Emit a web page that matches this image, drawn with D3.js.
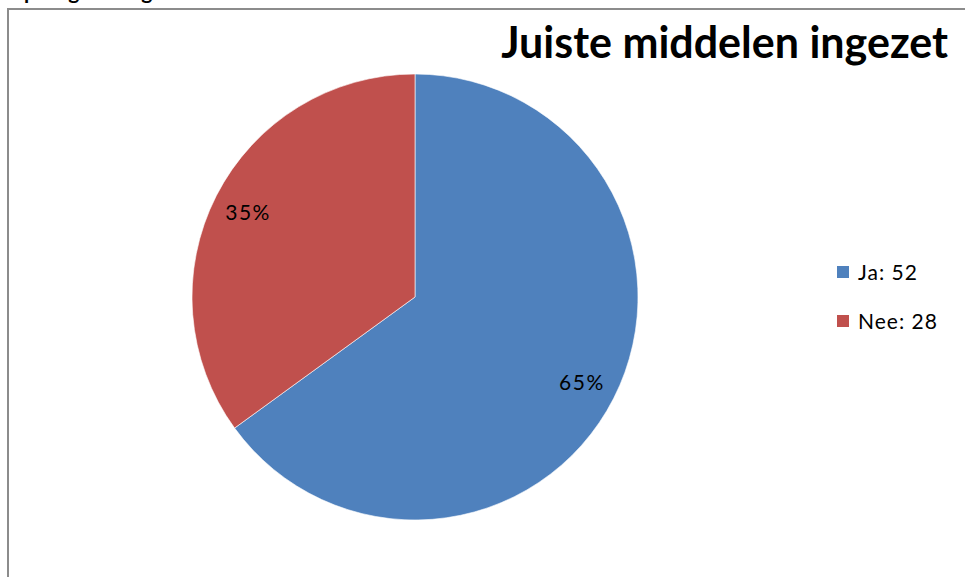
<!DOCTYPE html>
<html><head><meta charset="utf-8">
<script src="https://cdn.jsdelivr.net/npm/d3@7"></script>
<style>html,body{margin:0;padding:0;background:#fff;overflow:hidden}</style>
</head><body>
<svg id="c" width="965" height="577"></svg>
<script>
const categories = ["Ja", "Nee"];
const counts = [52, 28];
const colors = ["#4F81BD", "#C0504D"];
const title = "Juiste middelen ingezet";
const topFragment = "Groepsbegeleiding:";

const svg = d3.select("#c");
const font = "Lato, 'Open Sans', sans-serif";

// heading above the frame, cut off by the page top as in the reference
svg.append("text").attr("x", -22).attr("y", -1).attr("font-family", font)
  .attr("font-weight", "bold").attr("font-size", 21).attr("fill", "#000").text(topFragment);

// frame
svg.append("rect").attr("x", 8).attr("y", 9).attr("width", 1000).attr("height", 700)
  .attr("fill", "#fff").attr("stroke", "#8c8c8c").attr("stroke-width", 2);

// title
svg.append("text").attr("x", 948).attr("y", 58).attr("text-anchor", "end")
  .attr("font-family", font).attr("font-weight", "bold").attr("font-size", 43)
  .attr("fill", "#000").text(title);

const cx = 415, cy = 297, r = 223;
const total = d3.sum(counts);
const pie = d3.pie().sort(null).value(d => d)(counts);
const arc = d3.arc().innerRadius(0).outerRadius(r);
const labelArc = d3.arc().innerRadius(r * 0.84).outerRadius(r * 0.84);

const g = svg.append("g").attr("transform", `translate(${cx},${cy})`);
g.selectAll("path").data(pie).join("path")
  .attr("d", arc).attr("fill", (d, i) => colors[i])
  .attr("stroke", "#fff").attr("stroke-width", 0.6);

g.selectAll("text").data(pie).join("text")
  .attr("transform", d => `translate(${labelArc.centroid(d)})`)
  .attr("text-anchor", "middle").attr("dy", "0.4em")
  .attr("font-family", font).attr("font-size", 21).attr("letter-spacing", 1.5).attr("fill", "#000")
  .text(d => Math.round(d.data / total * 100) + "%");

// legend
const leg = svg.append("g");
const ly = d3.scalePoint().domain(categories).range([272, 321]);
categories.forEach((c, i) => {
  leg.append("rect").attr("x", 837).attr("y", ly(c) - 6).attr("width", 12).attr("height", 12)
    .attr("fill", colors[i]);
  leg.append("text").attr("x", 858).attr("y", ly(c)).attr("dy", "0.38em")
    .attr("font-family", font).attr("font-size", 21).attr("letter-spacing", 1).attr("fill", "#000")
    .text(c + ": " + counts[i]);
});
</script>
</body></html>
